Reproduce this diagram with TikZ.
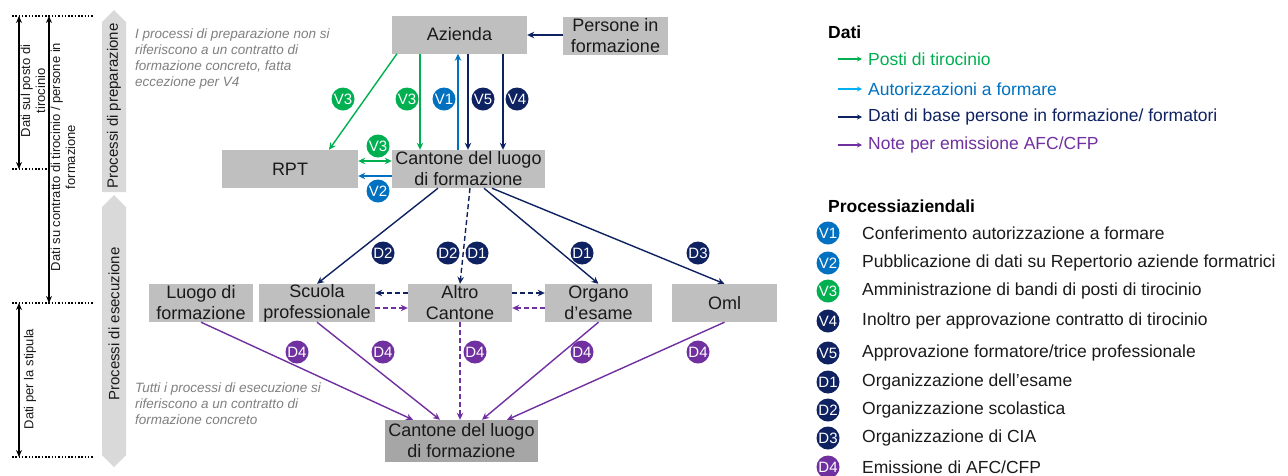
\documentclass[tikz,border=0pt]{standalone}
\usepackage{fontspec}
\setmainfont{Liberation Sans}
\usepackage{xcolor}
\usepackage{tikz}
\usetikzlibrary{arrows.meta, calc}
\definecolor{boxgray}{HTML}{BFBFBF}
\definecolor{boxdark}{HTML}{A6A6A6}
\definecolor{bandgray}{HTML}{D9D9D9}
\definecolor{grn}{HTML}{00B050}
\definecolor{blu}{HTML}{0070C0}
\definecolor{lightblu}{HTML}{00B0F0}
\definecolor{dnavy}{HTML}{0E2160}
\definecolor{purp}{HTML}{7030A0}
\definecolor{notegray}{HTML}{7F7F7F}
\definecolor{txt}{HTML}{1A1A1A}
\tikzstyle{place} = [rectangle, fill=boxgray, text=txt, inner sep=0pt, align=center, minimum height=38pt, font=\fontsize{18}{21}\selectfont]
\tikzstyle{badge} = [circle, inner sep=0pt, minimum size=23pt, text=white, font=\fontsize{15}{15}\selectfont]
\tikzstyle{arrow} = [line width=1.4pt, -{Stealth[length=7pt,width=6.5pt]}]
\tikzstyle{twoway} = [line width=1.4pt, {Stealth[length=7pt,width=6.5pt]}-{Stealth[length=7pt,width=6.5pt]}]
\tikzstyle{dasharrow} = [arrow, dash pattern=on 5pt off 3pt]
\tikzstyle{legarrow} = [line width=1.3pt, -{Stealth[length=5pt,width=5pt]}]
\tikzstyle{measure} = [line width=1.5pt, {Stealth[length=7pt,width=6pt]}-{Stealth[length=7pt,width=6pt]}]
\tikzstyle{dots} = [line width=1.5pt, dash pattern=on 1.5pt off 1.8pt]
\tikzstyle{sidetext} = [rotate=90, align=center, text=txt, inner sep=0pt, font=\fontsize{13}{15}\selectfont]
\tikzstyle{bandtext} = [rotate=90, text=txt, inner sep=0pt, font=\fontsize{15}{18}\selectfont]
\tikzstyle{note} = [anchor=west, align=left, inner sep=0pt, text=notegray, font=\fontsize{13.5}{16}\selectfont\itshape]
\tikzstyle{legtext} = [anchor=west, inner sep=0pt, font=\fontsize{17.5}{20}\selectfont]
\tikzstyle{leghead} = [anchor=west, inner sep=0pt, text=black, font=\fontsize{17.5}{20}\selectfont\bfseries]

\begin{document}
\begin{tikzpicture}[x=1pt, y=-1pt]
\useasboundingbox (0,0) rectangle (1288,475);

\coordinate (m0) at (19,16);
\coordinate (m1) at (19,169);
\coordinate (m2) at (19,303);
\coordinate (m3) at (19,457);
\draw [dots] ([xshift=-7pt]m0) -- ([xshift=74pt]m0);
\draw [dots] ([xshift=-7pt]m1) -- ([xshift=31pt]m1);
\draw [dots] ([xshift=-7pt]m2) -- ([xshift=74pt]m2);
\draw [dots] ([xshift=-7pt]m3) -- ([xshift=74pt]m3);
\draw [measure] (m0) -- (m1);
\draw [measure] ([xshift=30pt]m0) -- ([xshift=30pt]m2);
\draw [measure] (m2) -- (m3);
\node (posto) [sidetext] at (33,91) {Dati sul posto di\\tirocinio};
\node (contratto) [sidetext] at (63,157) {Dati su contratto di tirocinio / persone in\\formazione};
\node (stipula) [sidetext] at (30,379) {Dati per la stipula};

\fill [bandgray] (102,22) -- (114,10) -- (126,22) -- (126,192) -- (102,192) -- cycle;
\fill [bandgray] (102,207) -- (114,195) -- (126,207) -- (126,455) -- (114,467) -- (102,455) -- cycle;
\node (prep) [bandtext] at (114,106) {Processi di preparazione};
\node (esec) [bandtext] at (114,324) {Processi di esecuzione};
\node (noteprep) [note] at (135,59) {I processi di preparazione non si\\riferiscono a un contratto di\\formazione concreto, fatta\\eccezione per V4};
\node (noteesec) [note] at (135,404) {Tutti i processi di esecuzione si\\riferiscono a un contratto di\\formazione concreto};

\node (azienda) [place, minimum width=135pt] at (459.5,34.5) {Azienda};
\node (persone) [place, minimum width=105pt] at (615.5,36) {Persone in\\formazione};
\node (rpt) [place, minimum width=136pt] at (290,169) {RPT};
\node (cantone) [place, minimum width=153pt] at (468.5,169) {Cantone del luogo\\di formazione};
\node (luogo) [place, minimum width=104pt] at (201,303) {Luogo di\\formazione};
\node (scuola) [place, minimum width=116pt] at (317,303) {Scuola\\professionale};
\node (altro) [place, minimum width=104pt] at (460,303) {Altro\\Cantone};
\node (organo) [place, minimum width=107pt] at (598.5,303) {Organo\\d’esame};
\node (oml) [place, minimum width=105pt] at (724.5,303) {Oml};
\node (cfbottom) [place, minimum width=153pt, minimum height=42pt, fill=boxdark] at (461.5,441) {Cantone del luogo\\di formazione};

\draw [arrow, grn] ([xshift=-62.5pt]azienda.south) -- ([xshift=39pt]rpt.north);
\draw [arrow, grn] ([xshift=-39.5pt]azienda.south) -- ([xshift=-39.5pt]azienda.south |- cantone.north);
\draw [arrow, blu] ([xshift=-1.5pt]azienda.south |- cantone.north) -- ([xshift=-1.5pt]azienda.south);
\draw [arrow, dnavy] ([xshift=8.5pt]azienda.south) -- ([xshift=8.5pt]azienda.south |- cantone.north);
\draw [arrow, dnavy] ([xshift=43.5pt]azienda.south) -- ([xshift=43.5pt]azienda.south |- cantone.north);
\draw [arrow, dnavy] ([yshift=1pt]persone.west) -- ([yshift=1pt]persone.west -| azienda.east);
\draw [twoway, grn] ([yshift=8pt]cantone.west) -- ([yshift=8pt]cantone.west -| rpt.east);
\draw [arrow, blu] ([yshift=-7pt]cantone.west) -- ([yshift=-7pt]cantone.west -| rpt.east);

\draw [arrow, dnavy] ([xshift=-30.5pt]cantone.south) -- (scuola.north);
\draw [dasharrow, dnavy] ([xshift=1.5pt]cantone.south) -- (altro.north);
\draw [arrow, dnavy] ([xshift=15.5pt]cantone.south) -- (organo.north);
\draw [arrow, dnavy] ([xshift=23.5pt]cantone.south) -- (oml.north);
\draw [dasharrow, dnavy] ([yshift=10pt]altro.west) -- ([yshift=10pt]altro.west -| scuola.east);
\draw [dasharrow, purp] ([yshift=-5pt]scuola.east) -- ([yshift=-5pt]scuola.east -| altro.west);
\draw [dasharrow, dnavy] ([yshift=10pt]altro.east) -- ([yshift=10pt]altro.east -| organo.west);
\draw [dasharrow, purp] ([yshift=-5pt]organo.west) -- ([yshift=-5pt]organo.west -| altro.east);

\draw [arrow, purp] (luogo.south) -- ([xshift=-48.5pt]cfbottom.north);
\draw [arrow, purp] (scuola.south) -- ([xshift=-21.5pt]cfbottom.north);
\draw [dasharrow, purp] (altro.south) -- (altro.south |- cfbottom.north);
\draw [arrow, purp] (organo.south) -- ([xshift=20.5pt]cfbottom.north);
\draw [arrow, purp] (oml.south) -- ([xshift=45.5pt]cfbottom.north);

\node (v3a) [badge, fill=grn] at (343,99) {V3};
\node (v3b) [badge, fill=grn] at (407,99) {V3};
\node (v1) [badge, fill=blu] at (444,99) {V1};
\node (v5) [badge, fill=dnavy] at (483,99) {V5};
\node (v4) [badge, fill=dnavy] at (517,99) {V4};
\node (v3c) [badge, fill=grn] at (378,146) {V3};
\node (v2) [badge, fill=blu] at (378,191) {V2};
\node (d2a) [badge, fill=dnavy] at (383,253) {D2};
\node (d2b) [badge, fill=dnavy] at (448,253) {D2};
\node (d1a) [badge, fill=dnavy] at (477,253) {D1};
\node (d1b) [badge, fill=dnavy] at (582,253) {D1};
\node (d3) [badge, fill=dnavy] at (698,253) {D3};
\node (d4a) [badge, fill=purp] at (297,352) {D4};
\node (d4b) [badge, fill=purp] at (383,352) {D4};
\node (d4c) [badge, fill=purp] at (475,352) {D4};
\node (d4d) [badge, fill=purp] at (582,352) {D4};
\node (d4e) [badge, fill=purp] at (698,352) {D4};

\node (dati) [leghead] at (828,32) {Dati};
\node (posti) [legtext, text=grn] at (868,59) {Posti di tirocinio};
\node (autor) [legtext, text=blu] at (868,89) {Autorizzazioni a formare};
\node (base) [legtext, text=dnavy] at (868,117) {Dati di base persone in formazione/ formatori};
\node (afc) [legtext, text=purp] at (868,145) {Note per emissione AFC/CFP};
\draw [legarrow, grn] ([xshift=-30pt]posti.west) -- ([xshift=-6pt]posti.west);
\draw [legarrow, lightblu] ([xshift=-30pt]autor.west) -- ([xshift=-6pt]autor.west);
\draw [legarrow, dnavy] ([xshift=-30pt]base.west) -- ([xshift=-6pt]base.west);
\draw [legarrow, purp] ([xshift=-30pt]afc.west) -- ([xshift=-6pt]afc.west);

\node (proc) [leghead] at (828,206) {Processiaziendali};
\node (kv1) [badge, fill=blu] at (828,233) {V1};
\node (kv2) [badge, fill=blu] at (828,263) {V2};
\node (kv3) [badge, fill=grn] at (828,291) {V3};
\node (kv4) [badge, fill=dnavy] at (828,321) {V4};
\node (kv5) [badge, fill=dnavy] at (828,353) {V5};
\node (kd1) [badge, fill=dnavy] at (828,382) {D1};
\node (kd2) [badge, fill=dnavy] at (828,410) {D2};
\node (kd3) [badge, fill=dnavy] at (828,438) {D3};
\node (kd4) [badge, fill=purp] at (828,467) {D4};
\node (tv1) [legtext, text=txt] at (862,233) {Conferimento autorizzazione a formare};
\node (tv2) [legtext, text=txt] at (862,263) {Pubblicazione di dati su Repertorio aziende formatrici};
\node (tv3) [legtext, text=txt] at (862,291) {Amministrazione di bandi di posti di tirocinio};
\node (tv4) [legtext, text=txt] at (862,321) {Inoltro per approvazione contratto di tirocinio};
\node (tv5) [legtext, text=txt] at (862,353) {Approvazione formatore/trice professionale};
\node (td1) [legtext, text=txt] at (862,382) {Organizzazione dell’esame};
\node (td2) [legtext, text=txt] at (862,410) {Organizzazione scolastica};
\node (td3) [legtext, text=txt] at (862,438) {Organizzazione di CIA};
\node (td4) [legtext, text=txt] at (862,467) {Emissione di AFC/CFP};

\end{tikzpicture}
\end{document}
